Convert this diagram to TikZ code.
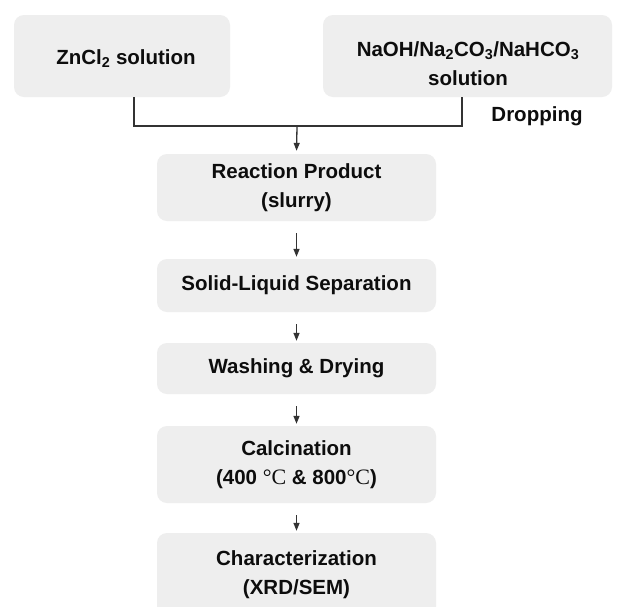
\documentclass[tikz,border=0pt]{standalone}
\usepackage{fontspec}
\setmainfont{Liberation Sans}
\newfontfamily\serifC{Liberation Serif}
\usetikzlibrary{arrows.meta}
\definecolor{boxgray}{HTML}{EEEEEE}
\definecolor{linegray}{HTML}{333333}
\begin{document}
\begin{tikzpicture}[x=1pt,y=-1pt,
  box/.style={fill=boxgray, rounded corners=10pt, inner sep=0pt, align=center,
    font=\fontsize{20.5}{29}\selectfont\bfseries, text=black!95},
  lbl/.style={font=\fontsize{20.5}{29}\selectfont\bfseries, text=black!95, align=center},
  conn/.style={draw=linegray, line width=1.3pt},
  tip/.style={-{Triangle[length=8pt,width=6pt]}},
  arr/.style={conn, tip, shorten <=12pt, shorten >=2pt}]
\clip (0,0) rectangle (617,606);
\fill[white] (0,0) rectangle (617,606);
% top boxes
\node[box, minimum width=216pt, minimum height=82pt] (zn) at (122,56) {};
\node[lbl] (znt) at (126,59) {ZnCl\textsubscript{2} solution};
\node[box, minimum width=289pt, minimum height=82pt] (na) at (467.5,56) {};
\node[lbl] (nat) at (468,64) {NaOH/Na\textsubscript{2}CO\textsubscript{3}/NaHCO\textsubscript{3}\\solution};
\node[lbl] (drop) at (537,116) {Dropping};
% process boxes
\node[box, minimum width=279pt, minimum height=67pt] (rp) at (296.5,187.5) {Reaction Product\\(slurry)};
\node[box, minimum width=279pt, minimum height=53pt] (sl) at (296.5,285.5) {Solid-Liquid Separation};
\node[box, minimum width=279pt, minimum height=51pt] (wd) at (296.5,368.5) {Washing \& Drying};
\node[box, minimum width=279pt, minimum height=77pt] (ca) at (296.5,464.5) {Calcination\\(400 {\serifC\mdseries\fontsize{22}{29}\selectfont °C} \& 800{\serifC\mdseries\fontsize{22}{29}\selectfont °C})};
\node[box, minimum width=279pt, minimum height=84pt] (ch) at (296.5,575) {Characterization\\(XRD/SEM)};
% connectors
\coordinate (j1) at (134,126);
\coordinate (j2) at (462,126);
\coordinate (jm) at (297,126);
\draw[conn] (zn.south -| j1) -- (j1) -- (j2) -- (na.south -| j2);
\draw[conn, tip, shorten >=3pt] (jm) -- (rp.north);
\draw[arr] (rp.south) -- (sl.north);
\draw[arr] (sl.south) -- (wd.north);
\draw[arr] (wd.south) -- (ca.north);
\draw[arr] (ca.south) -- (ch.north);
\end{tikzpicture}
\end{document}
